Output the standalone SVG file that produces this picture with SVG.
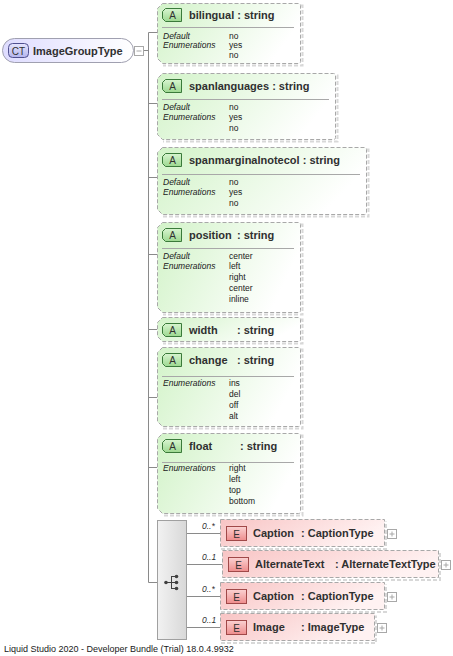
<svg xmlns="http://www.w3.org/2000/svg" width="453" height="656" viewBox="0 0 453 656">
<defs>
<linearGradient id="gAttr" x1="0" y1="0" x2="1" y2="0.3"><stop offset="0" stop-color="#d2f3c8"/><stop offset="1" stop-color="#ffffff"/></linearGradient>
<linearGradient id="gA" x1="0" y1="0" x2="0" y2="1"><stop offset="0" stop-color="#d8f5d0"/><stop offset="1" stop-color="#9cd890"/></linearGradient>
<linearGradient id="gEl" x1="0" y1="0" x2="1" y2="0.3"><stop offset="0" stop-color="#f8c4c4"/><stop offset="1" stop-color="#fff2f2"/></linearGradient>
<linearGradient id="gE" x1="0" y1="0" x2="0" y2="1"><stop offset="0" stop-color="#fbd2d2"/><stop offset="1" stop-color="#ee8c8c"/></linearGradient>
<linearGradient id="gCT" x1="0" y1="0" x2="1" y2="0"><stop offset="0" stop-color="#dedcff"/><stop offset="1" stop-color="#ffffff"/></linearGradient>
<linearGradient id="gCTb" x1="0" y1="0" x2="0" y2="1"><stop offset="0" stop-color="#e6e6ff"/><stop offset="1" stop-color="#b4b4ec"/></linearGradient>
<linearGradient id="gSeq" x1="0" y1="0" x2="1" y2="0"><stop offset="0" stop-color="#f2f2f2"/><stop offset="1" stop-color="#d8d8d8"/></linearGradient>
</defs>
<style>
.box{fill:url(#gAttr);stroke:#a8a8a8;stroke-width:1;stroke-dasharray:4 2}
.sh{fill:none;stroke:#d8d8d8;stroke-width:2;stroke-dasharray:4 2}
.ebox{fill:url(#gEl);stroke:#a8a8a8;stroke-width:1;stroke-dasharray:4 2}
.ab{fill:url(#gA);stroke:#3a7a3a;stroke-width:1}
.eb{fill:url(#gE);stroke:#a04848;stroke-width:1}
.sep{stroke:#a8a8a8;stroke-width:1}
.t{font-family:"Liberation Sans",Arial,sans-serif;font-weight:bold;font-size:11px;fill:#303030}
.bl{font-family:"Liberation Sans",Arial,sans-serif;font-size:10px;fill:#303030;text-anchor:middle}
.k{font-family:"Liberation Sans",Arial,sans-serif;font-style:italic;font-size:8.5px;fill:#202020}
.v{font-family:"Liberation Sans",Arial,sans-serif;font-size:8.5px;fill:#202020}
.c{fill:none;stroke:#8a8a8a;stroke-width:1}
.card{font-family:"Liberation Sans",Arial,sans-serif;font-style:italic;font-size:8.5px;fill:#303030}
.pl{fill:#ffffff;stroke:#a8a8a8;stroke-width:1}
.pls{stroke:#a8a8a8;stroke-width:1}
.ft{font-family:"Liberation Sans",Arial,sans-serif;font-size:9px;fill:#202020}
</style>

<g id="connectors">
<path class="c" d="M143.5,50.5 H148.5 M148.5,32.5 V582.5"/>
<path class="c" d="M148.5,32.5 H157 M148.5,103.5 H157 M148.5,177.5 H157 M148.5,254.5 H157 M148.5,329.5 H157 M148.5,397.5 H157 M148.5,467.5 H157 M148.5,582.5 H157"/>
<path class="c" d="M187,533.5 H220 M187,564.5 H222 M187,596.5 H220 M187,627.5 H220"/>
</g>

<g id="ImageGroupType">
<rect x="2.5" y="38.5" width="131" height="24" rx="12" ry="12" fill="url(#gCT)" stroke="#a0a0b0"/>
<rect x="8.5" y="43.5" width="20" height="14" rx="4" fill="url(#gCTb)" stroke="#505090"/>
<text class="bl" x="18.5" y="54.5">CT</text>
<text class="t" x="33" y="54.5">ImageGroupType</text>
<rect class="pl" x="134.5" y="46.5" width="9" height="9"/>
<line class="pls" x1="136.5" y1="51" x2="141.5" y2="51"/>
</g>

<g id="bilingual">
<path class="sh" d="M163,5.5 H302.5 V65.5 H163"/>
<path class="box" d="M162.5,3.5 H298.5 Q300.5,3.5 300.5,5.5 V61.5 Q300.5,63.5 298.5,63.5 H162.5 L157.5,58.5 V8.5 Z"/>
<path class="ab" d="M165.5,8.5 H181.5 V21.5 H165.5 L162.5,18.5 V11.5 Z"/>
<text class="bl" x="172.5" y="19">A</text>
<text class="t" x="189" y="18.5">bilingual : string</text>
<line class="sep" x1="162" y1="27.5" x2="294" y2="27.5"/>
<text class="k" x="163" y="39">Default</text><text class="v" x="229" y="39">no</text>
<text class="k" x="163" y="48">Enumerations</text><text class="v" x="229" y="48">yes</text>
<text class="v" x="229" y="58">no</text>
</g>

<g id="spanlanguages">
<path class="sh" d="M163,75.5 H337.5 V141.5 H163"/>
<path class="box" d="M162.5,73.5 H333.5 Q335.5,73.5 335.5,75.5 V137.5 Q335.5,139.5 333.5,139.5 H162.5 L157.5,134.5 V78.5 Z"/>
<path class="ab" d="M165.5,79.5 H181.5 V92.5 H165.5 L162.5,89.5 V82.5 Z"/>
<text class="bl" x="172.5" y="90">A</text>
<text class="t" x="189" y="89.5">spanlanguages : string</text>
<line class="sep" x1="162" y1="99.5" x2="329" y2="99.5"/>
<text class="k" x="163" y="110">Default</text><text class="v" x="229" y="110">no</text>
<text class="k" x="163" y="120">Enumerations</text><text class="v" x="229" y="120">yes</text>
<text class="v" x="229" y="131">no</text>
</g>

<g id="spanmarginalnotecol">
<path class="sh" d="M163,149.5 H368.5 V216.5 H163"/>
<path class="box" d="M162.5,147.5 H364.5 Q366.5,147.5 366.5,149.5 V212.5 Q366.5,214.5 364.5,214.5 H162.5 L157.5,209.5 V152.5 Z"/>
<path class="ab" d="M165.5,153.5 H181.5 V166.5 H165.5 L162.5,163.5 V156.5 Z"/>
<text class="bl" x="172.5" y="164">A</text>
<text class="t" x="189" y="163.5">spanmarginalnotecol : string</text>
<line class="sep" x1="162" y1="174.5" x2="360" y2="174.5"/>
<text class="k" x="163" y="185">Default</text><text class="v" x="229" y="185">no</text>
<text class="k" x="163" y="195">Enumerations</text><text class="v" x="229" y="195">yes</text>
<text class="v" x="229" y="206">no</text>
</g>

<g id="position">
<path class="sh" d="M163,224.5 H302.5 V314.5 H163"/>
<path class="box" d="M162.5,222.5 H298.5 Q300.5,222.5 300.5,224.5 V310.5 Q300.5,312.5 298.5,312.5 H162.5 L157.5,307.5 V227.5 Z"/>
<path class="ab" d="M165.5,228.5 H181.5 V241.5 H165.5 L162.5,238.5 V231.5 Z"/>
<text class="bl" x="172.5" y="239">A</text>
<text class="t" x="189" y="238.5">position</text><text class="t" x="237" y="238.5">: string</text>
<line class="sep" x1="162" y1="248.5" x2="294" y2="248.5"/>
<text class="k" x="163" y="259">Default</text><text class="v" x="229" y="259">center</text>
<text class="k" x="163" y="269">Enumerations</text><text class="v" x="229" y="269">left</text>
<text class="v" x="229" y="280">right</text>
<text class="v" x="229" y="291">center</text>
<text class="v" x="229" y="302">inline</text>
</g>

<g id="width">
<path class="sh" d="M163,319.5 H302.5 V343.5 H163"/>
<path class="box" d="M162.5,317.5 H298.5 Q300.5,317.5 300.5,319.5 V339.5 Q300.5,341.5 298.5,341.5 H162.5 L157.5,336.5 V322.5 Z"/>
<path class="ab" d="M165.5,323.5 H181.5 V336.5 H165.5 L162.5,333.5 V326.5 Z"/>
<text class="bl" x="172.5" y="334">A</text>
<text class="t" x="189" y="333.5">width</text><text class="t" x="237" y="333.5">: string</text>
</g>

<g id="change">
<path class="sh" d="M163,349.5 H302.5 V428.5 H163"/>
<path class="box" d="M162.5,347.5 H298.5 Q300.5,347.5 300.5,349.5 V424.5 Q300.5,426.5 298.5,426.5 H162.5 L157.5,421.5 V352.5 Z"/>
<path class="ab" d="M165.5,353.5 H181.5 V366.5 H165.5 L162.5,363.5 V356.5 Z"/>
<text class="bl" x="172.5" y="364">A</text>
<text class="t" x="189" y="363.5">change</text><text class="t" x="237" y="363.5">: string</text>
<line class="sep" x1="162" y1="376.5" x2="294" y2="376.5"/>
<text class="k" x="163" y="386">Enumerations</text><text class="v" x="229" y="386">ins</text>
<text class="v" x="229" y="397">del</text>
<text class="v" x="229" y="408">off</text>
<text class="v" x="229" y="419">alt</text>
</g>

<g id="float">
<path class="sh" d="M163,435.5 H302.5 V515.5 H163"/>
<path class="box" d="M162.5,433.5 H298.5 Q300.5,433.5 300.5,435.5 V511.5 Q300.5,513.5 298.5,513.5 H162.5 L157.5,508.5 V438.5 Z"/>
<path class="ab" d="M165.5,439.5 H181.5 V452.5 H165.5 L162.5,449.5 V442.5 Z"/>
<text class="bl" x="172.5" y="450">A</text>
<text class="t" x="189" y="449.5">float</text><text class="t" x="240" y="449.5">: string</text>
<line class="sep" x1="162" y1="462.5" x2="294" y2="462.5"/>
<text class="k" x="163" y="471">Enumerations</text><text class="v" x="229" y="471">right</text>
<text class="v" x="229" y="482">left</text>
<text class="v" x="229" y="493">top</text>
<text class="v" x="229" y="504">bottom</text>
</g>

<g id="sequence">
<rect x="157.5" y="520.5" width="29" height="119" fill="url(#gSeq)" stroke="#a0a0a0"/>
<circle cx="166" cy="582.5" r="1.8" fill="#404040"/>
<path d="M166,582.5 H171 M171.5,576.5 V588.5 M171,576.5 H176 M171,582.5 H176 M171,588.5 H176" stroke="#404040" stroke-width="1" fill="none"/>
<circle cx="176.5" cy="576.5" r="1.8" fill="#404040"/>
<circle cx="176.5" cy="582.5" r="1.8" fill="#404040"/>
<circle cx="176.5" cy="588.5" r="1.8" fill="#404040"/>
</g>

<g id="Caption1">
<text class="card" x="202" y="529">0..*</text>
<path class="sh" d="M221,549 H386 V521.5"/>
<rect class="ebox" x="220.5" y="519.5" width="164" height="27"/>
<rect class="eb" x="226.5" y="526.5" width="20" height="14"/>
<text class="bl" x="236.5" y="537.5">E</text>
<text class="t" x="253" y="537">Caption</text><text class="t" x="301" y="537">: CaptionType</text>
<rect class="pl" x="387.5" y="529.5" width="9" height="9"/>
<path class="pls" d="M389.5,534 H394.5 M392,531.5 V536.5"/>
</g>

<g id="AlternateText">
<text class="card" x="202" y="560">0..1</text>
<path class="sh" d="M223,580 H440 V552.5"/>
<rect class="ebox" x="222.5" y="550.5" width="216" height="27"/>
<rect class="eb" x="228.5" y="557.5" width="20" height="14"/>
<text class="bl" x="238.5" y="568.5">E</text>
<text class="t" x="255" y="568">AlternateText</text><text class="t" x="335" y="568">: AlternateTextType</text>
<rect class="pl" x="441.5" y="560.5" width="9" height="9"/>
<path class="pls" d="M443.5,565 H448.5 M446,562.5 V567.5"/>
</g>

<g id="Caption2">
<text class="card" x="202" y="592">0..*</text>
<path class="sh" d="M221,612 H386 V584.5"/>
<rect class="ebox" x="220.5" y="582.5" width="164" height="27"/>
<rect class="eb" x="226.5" y="589.5" width="20" height="14"/>
<text class="bl" x="236.5" y="600.5">E</text>
<text class="t" x="253" y="600">Caption</text><text class="t" x="301" y="600">: CaptionType</text>
<rect class="pl" x="387.5" y="592.5" width="9" height="9"/>
<path class="pls" d="M389.5,597 H394.5 M392,594.5 V599.5"/>
</g>

<g id="Image">
<text class="card" x="202" y="623">0..1</text>
<path class="sh" d="M221,643 H376 V615.5"/>
<rect class="ebox" x="220.5" y="613.5" width="154" height="27"/>
<rect class="eb" x="226.5" y="620.5" width="20" height="14"/>
<text class="bl" x="236.5" y="631.5">E</text>
<text class="t" x="253" y="631">Image</text><text class="t" x="301" y="631">: ImageType</text>
<rect class="pl" x="377.5" y="623.5" width="9" height="9"/>
<path class="pls" d="M379.5,628 H384.5 M382,625.5 V630.5"/>
</g>

<text class="ft" x="4" y="652">Liquid Studio 2020 - Developer Bundle (Trial) 18.0.4.9932</text>
</svg>
